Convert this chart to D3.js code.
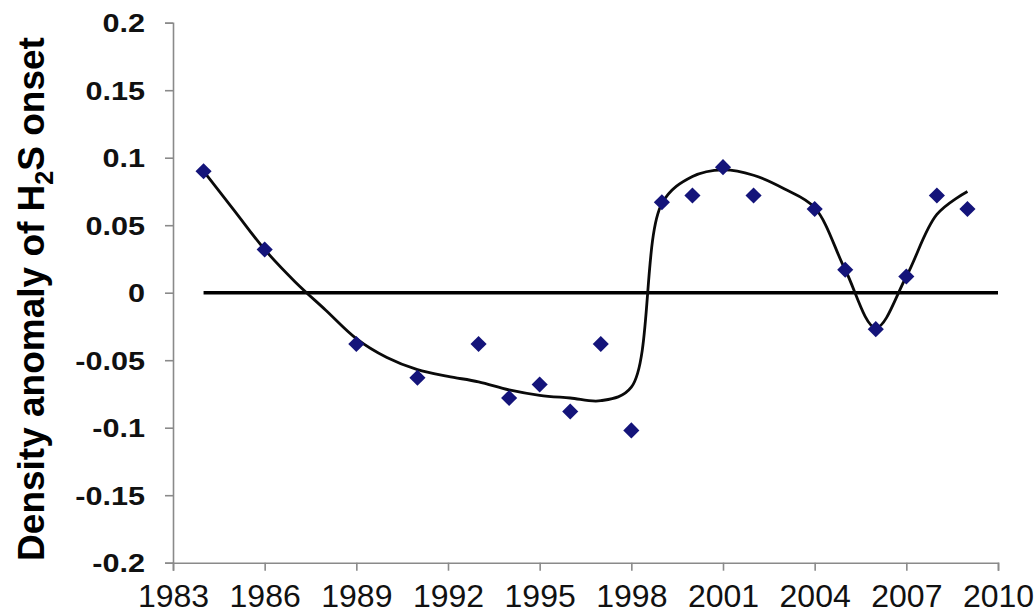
<!DOCTYPE html>
<html>
<head>
<meta charset="utf-8">
<script src="https://cdn.jsdelivr.net/npm/d3@7"></script>
<style>
  html, body { margin: 0; padding: 0; background: #ffffff; }
  svg { display: block; }
</style>
</head>
<body>
<svg id="chart" width="1036" height="616"></svg>
<script>
// Observed density anomaly at H2S onset, by year
const obsYears = [1984, 1986, 1989, 1991, 1993, 1994, 1995, 1996, 1997, 1998,
                  1999, 2000, 2001, 2002, 2004, 2005, 2006, 2007, 2008, 2009];
const obsValues = [0.090, 0.032, -0.038, -0.063, -0.038, -0.078, -0.068, -0.088, -0.038, -0.102,
                   0.067, 0.072, 0.093, 0.072, 0.062, 0.017, -0.027, 0.012, 0.072, 0.062];

// Smoothed trend through the series
const trendYears = [1984, 1985, 1986, 1987, 1988, 1989, 1990, 1991, 1992, 1993, 1994, 1995, 1996,
                    1997, 1998, 1999, 2000, 2001, 2002, 2003, 2004, 2005, 2006, 2007, 2008, 2009];
const trendValues = [0.090, 0.061, 0.032, 0.008, -0.013, -0.034, -0.048, -0.057, -0.062, -0.066,
                     -0.072, -0.076, -0.078, -0.080, -0.070, 0.066, 0.086, 0.091, 0.087, 0.077,
                     0.063, 0.017, -0.026, 0.012, 0.058, 0.075];

// Zero reference line
const zeroYears = [1984, 2010];
const zeroValues = [0, 0];

// Axis ticks
const xTicks = [1983, 1986, 1989, 1992, 1995, 1998, 2001, 2004, 2007, 2010];
const yTicks = [0.2, 0.15, 0.1, 0.05, 0, -0.05, -0.1, -0.15, -0.2];
const yTickLabels = ["0.2", "0.15", "0.1", "0.05", "0", "-0.05", "-0.1", "-0.15", "-0.2"];

const svg = d3.select("#chart");
const plotLeft = 173, plotRight = 998, plotTop = 22.7, plotBottom = 562.7;

const x = d3.scaleLinear().domain([1983, 2010]).range([plotLeft, plotRight]);
const y = d3.scaleLinear().domain([-0.2, 0.2]).range([plotBottom, plotTop]);

// Axes
const axisColor = "#8a8a8a";
const labelStretch = 1.2;
const yAxis = svg.append("g")
  .attr("transform", `translate(${plotLeft},0)`)
  .call(d3.axisLeft(y).tickValues(yTicks).tickSize(8)
        .tickFormat((d, i) => yTickLabels[i]));
yAxis.select(".domain").attr("stroke", axisColor).attr("stroke-width", 1.6);
yAxis.selectAll(".tick line").attr("stroke", axisColor).attr("stroke-width", 1.6);
yAxis.selectAll(".tick text")
  .attr("x", -28 / labelStretch)
  .attr("dy", "0.36em")
  .attr("transform", `scale(${labelStretch},1)`)
  .attr("fill", "#111")
  .style("font-family", "'Liberation Sans', Arial, sans-serif")
  .style("font-size", "25.5px")
  .style("font-weight", "bold");

const xAxis = svg.append("g")
  .attr("transform", `translate(0,${plotBottom})`)
  .call(d3.axisBottom(x).tickValues(xTicks).tickSize(8).tickFormat(d3.format("d")));
xAxis.select(".domain").attr("stroke", axisColor).attr("stroke-width", 1.6);
xAxis.selectAll(".tick line").attr("stroke", axisColor).attr("stroke-width", 1.6);
xAxis.selectAll(".tick text")
  .attr("y", 44)
  .attr("dy", 0)
  .attr("fill", "#111")
  .style("font-family", "'Liberation Sans', Arial, sans-serif")
  .style("font-size", "32px");

// Zero line
const line = d3.line().x(d => x(d[0])).y(d => y(d[1]));
svg.append("path")
  .datum(zeroYears.map((yr, i) => [yr, zeroValues[i]]))
  .attr("d", line)
  .attr("fill", "none")
  .attr("stroke", "#000")
  .attr("stroke-width", 3.5);

// Smoothed trend curve
svg.append("path")
  .datum(trendYears.map((yr, i) => [yr, trendValues[i]]))
  .attr("d", line.curve(d3.curveCatmullRom.alpha(0.5)))
  .attr("fill", "none")
  .attr("stroke", "#0a0a0a")
  .attr("stroke-width", 2.8);

// Observed points as diamonds
const diamond = d3.symbol().type(d3.symbolSquare).size(130);
svg.append("g")
  .selectAll("path")
  .data(obsYears.map((yr, i) => [yr, obsValues[i]]))
  .join("path")
  .attr("d", diamond)
  .attr("transform", d => `translate(${x(d[0])},${y(d[1])}) rotate(45)`)
  .attr("fill", "#14147a");

// Y-axis title with subscript
const title = svg.append("text")
  .attr("transform", "translate(44,299) rotate(-90)")
  .attr("text-anchor", "middle")
  .attr("fill", "#000")
  .style("font-family", "'Liberation Sans', Arial, sans-serif")
  .style("font-size", "37px")
  .style("font-weight", "bold");
title.append("tspan").text("Density anomaly of H");
title.append("tspan").attr("dy", 9).style("font-size", "25px").text("2");
title.append("tspan").attr("dy", -9).text("S onset");
</script>
</body>
</html>
